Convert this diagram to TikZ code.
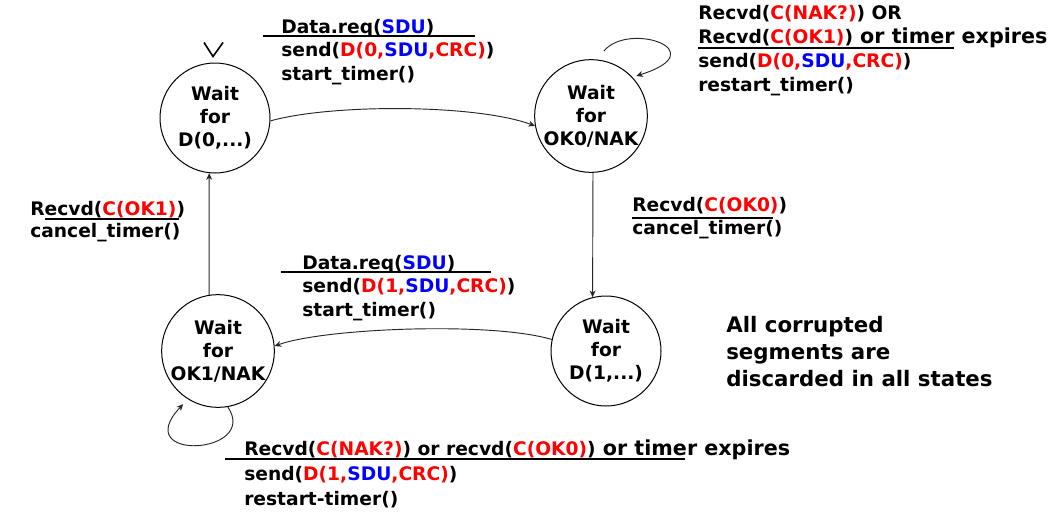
\documentclass[tikz,border=0pt]{standalone}
\usepackage{fontspec}
\setmainfont{DejaVu Sans}
\usepackage{xcolor}
\usetikzlibrary{arrows.meta}
\definecolor{msgred}{HTML}{FF0000}
\definecolor{sdublue}{HTML}{0000FF}
\newcommand{\msgr}[1]{\textcolor{msgred}{#1}}
\newcommand{\sdub}[1]{\textcolor{sdublue}{#1}}

\begin{document}
\begin{tikzpicture}[
  x=0.75pt, y=-0.75pt,
  state/.style={circle, draw=black, line width=0.75pt, fill=white,
                minimum size=82.5pt, inner sep=0pt, align=center,
                font=\bfseries\fontsize{14}{17.25}\selectfont},
  lbl/.style={anchor=north west, inner sep=0pt, align=left,
              font=\bfseries\fontsize{14}{#1}\selectfont},
  lbl/.default=17.5,
  arr/.style={-{Stealth[length=5pt, width=4.5pt]}, line width=0.7pt, color=black!85},
  bar/.style={line width=1.5pt},
  thinbar/.style={line width=0.8pt}
]
\useasboundingbox (0,0) rectangle (1055,514);
% states
\node[state] (D0)  at (215,118) {Wait\\for\\D(0,...)};
\node[state] (OK0) at (591,116) {Wait\\for\\OK0/NAK};
\node[state] (D1)  at (606,351) {Wait\\for\\D(1,...)};
\node[state] (OK1) at (218,351) {Wait\\for\\OK1/NAK};
% initial state marker
\coordinate (init) at ([xshift=-1.5pt, yshift=4.5pt]D0.north);
\draw[line width=1.2pt] (init) +(-9,-14) -- (init) -- +(10,-14);
% transitions
\draw[arr] (D0.357) .. controls +(60,-17) and +(-60,-22) .. (OK0.190);
\draw[arr] ([shift={(3,-9)}]OK0.80) .. controls +(25,-30) and +(80,-25) .. ([shift={(3,-2)}]OK0.42);
\draw[arr] (OK0.272) -- (D1.104);
\draw[arr] (D1.168) .. controls +(-60,-18) and +(50,-18) .. (OK1.5);
\draw[arr] (OK1.280) .. controls +(32,48) and +(-55,58) .. ([shift={(-3,6)}]OK1.236);
\draw[arr] (OK1.99) -- (D0.264);
% transition labels
\node[lbl] (reqA) at (281,19)
  {Data.req(\sdub{SDU})\\send(\msgr{D(0,}\sdub{SDU}\msgr{,CRC)})\\start\_timer()};
\draw[bar] (263,36) -- (475,36);
\node[lbl=18] (loopA) at (698,5)
  {Recvd(\msgr{C(NAK?)}) OR\\Recvd(\msgr{C(OK1)}){\fontsize{15.5}{18}\selectfont{} or timer expires}\\send(\msgr{D(0,}\sdub{SDU}\msgr{,CRC)})\\restart\_timer()};
\draw[bar] (698,48) -- (954,48);
\node[lbl=16.5] (ackA) at (30,201) {Recvd(\msgr{C(OK1)})\\cancel\_timer()};
\draw[thinbar] (45,219) -- (179,219);
\node[lbl=17.25] (ackB) at (632,197) {Recvd(\msgr{C(OK0)})\\cancel\_timer()};
\draw[thinbar] (632,218) -- (773,218);
\node[lbl] (reqB) at (302,255)
  {Data.req(\sdub{SDU})\\send(\msgr{D(1,}\sdub{SDU}\msgr{,CRC)})\\start\_timer()};
\draw[bar] (281,272) -- (491,272);
\node[lbl=18.75] (loopB) at (244,440)
  {Recvd(\msgr{C(NAK?)}) or recvd(\msgr{C(OK0)}){\fontsize{15.5}{18}\selectfont{} or timer expires}\\send(\msgr{D(1,}\sdub{SDU}\msgr{,CRC)})\\restart-timer()};
\draw[bar] (225,459) -- (685,459);
% note
\node[lbl, font=\bfseries\fontsize{16}{20.25}\selectfont] (note) at (726,316)
  {All corrupted\\segments are\\discarded in all states};
\end{tikzpicture}
\end{document}
